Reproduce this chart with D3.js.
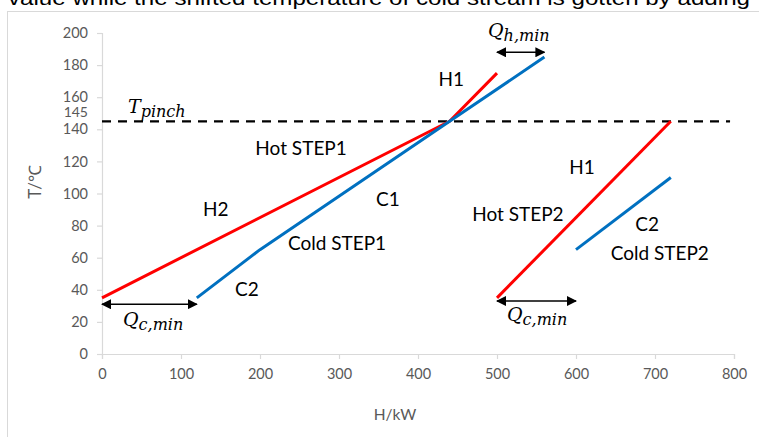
<!DOCTYPE html>
<html>
<head>
<meta charset="utf-8">
<script src="https://cdn.jsdelivr.net/npm/d3@7"></script>
<style>
  html, body { margin: 0; padding: 0; background: #fff; }
  svg { display: block; }
</style>
</head>
<body>
<svg id="chart" width="759" height="437"></svg>
<script>
// ---------- data ----------
const hotStep1H = [0, 440, 500];
const hotStep1T = [35, 145, 175];
const coldStep1H = [120, 200, 440, 560];
const coldStep1T = [35, 65, 145, 185];
const hotStep2H = [500, 720];
const hotStep2T = [35, 145];
const coldStep2H = [600, 720];
const coldStep2T = [65, 110];
const pinchT = 145;
const pinchRangeH = [0, 795];
const xTicks = [0, 100, 200, 300, 400, 500, 600, 700, 800];
const yTicks = [0, 20, 40, 60, 80, 100, 120, 140, 160, 180, 200];
const extraYTick = 145;
// arrows: [h1, h2, T]
const qhArrow = [500, 560, 188];
const qcArrowLeft = [0, 120, 31];
const qcArrowRight = [500, 600, 33];
// text labels: [text, H, T]
const streamLabels = [
  ["H1", 442, 171],
  ["Hot STEP1", 252, 128],
  ["H2", 144, 90],
  ["C1", 362, 96.5],
  ["Cold STEP1", 297.5, 69],
  ["C2", 183.5, 40],
  ["H1", 607.5, 116.5],
  ["Hot STEP2", 526.5, 87],
  ["C2", 690, 81],
  ["Cold STEP2", 706, 63]
];

// ---------- layout ----------
const svg = d3.select("#chart");
const x = d3.scaleLinear().domain([0, 800]).range([102, 734]);
const y = d3.scaleLinear().domain([0, 200]).range([354, 33]);

const gray = "#d9d9d9";
const labelGray = "#595959";
const fontUI = "Lato, 'Open Sans', sans-serif";
const fontMath = "'DejaVu Serif', 'Liberation Serif', serif";

// header (cut-off caption above chart)
svg.append("text")
  .attr("x", 8).attr("y", 4.5)
  .attr("font-family", "'Liberation Sans', Arial, sans-serif")
  .attr("font-size", 20)
  .attr("fill", "#000")
  .attr("textLength", 742)
  .attr("lengthAdjust", "spacingAndGlyphs")
  .text("value while the shifted temperature of cold stream is gotten by adding");

// chart border
svg.append("rect")
  .attr("x", 7.5).attr("y", 11.5)
  .attr("width", 800).attr("height", 500)
  .attr("fill", "#fff")
  .attr("stroke", gray).attr("stroke-width", 1);

// axes
const xAxis = d3.axisBottom(x).tickValues(xTicks).tickSize(5).tickPadding(6);
const gx = svg.append("g").attr("transform", `translate(0,${y(0)})`).call(xAxis);
const yAxis = d3.axisLeft(y).tickValues(yTicks).tickSize(5).tickPadding(9);
const gy = svg.append("g").attr("transform", `translate(${x(0)},0)`).call(yAxis);
[gx, gy].forEach(g => {
  g.select(".domain").attr("stroke", gray).attr("stroke-width", 1.2);
  g.selectAll(".tick line").attr("stroke", gray).attr("stroke-width", 1.2);
  g.selectAll(".tick text")
    .attr("fill", labelGray)
    .attr("font-family", fontUI)
    .attr("font-size", 14.5);
});
gx.selectAll(".tick text").attr("dy", "0.95em");
// extra 145 label (set slightly above its value to avoid overlap)
svg.append("text")
  .attr("x", x(0) - 14).attr("y", y(extraYTick) - 8.5)
  .attr("dy", "0.32em")
  .attr("text-anchor", "end")
  .attr("fill", labelGray)
  .attr("font-family", fontUI)
  .attr("font-size", 14)
  .text(String(extraYTick));

// axis titles
svg.append("text")
  .attr("transform", "translate(41,182) rotate(-90)")
  .attr("text-anchor", "middle")
  .attr("fill", labelGray)
  .attr("font-family", fontUI)
  .attr("font-size", 17)
  .text("T/℃");
svg.append("text")
  .attr("x", 395).attr("y", 420)
  .attr("text-anchor", "middle")
  .attr("fill", labelGray)
  .attr("font-family", fontUI)
  .attr("font-size", 15.5)
  .text("H/kW");

// pinch line
svg.append("line")
  .attr("x1", x(pinchRangeH[0])).attr("x2", x(pinchRangeH[1]))
  .attr("y1", y(pinchT)).attr("y2", y(pinchT))
  .attr("stroke", "#000").attr("stroke-width", 2.2)
  .attr("stroke-dasharray", "9,7");

// composite curves
const line = d3.line().x(d => x(d[0])).y(d => y(d[1]));
const zip = (a, b) => a.map((v, i) => [v, b[i]]);
const curves = [
  [zip(hotStep1H, hotStep1T), "#ff0000"],
  [zip(coldStep1H, coldStep1T), "#0070c0"],
  [zip(hotStep2H, hotStep2T), "#ff0000"],
  [zip(coldStep2H, coldStep2T), "#0070c0"]
];
curves.forEach(([pts, col]) => {
  svg.append("path").attr("d", line(pts))
    .attr("fill", "none").attr("stroke", col)
    .attr("stroke-width", 3).attr("stroke-linejoin", "round");
});

// arrows
const defs = svg.append("defs");
defs.append("marker").attr("id", "ah").attr("viewBox", "0 0 10 10")
  .attr("refX", 9).attr("refY", 5)
  .attr("markerWidth", 10).attr("markerHeight", 10)
  .attr("markerUnits", "userSpaceOnUse")
  .attr("orient", "auto-start-reverse")
  .append("path").attr("d", "M0,0 L10,5 L0,10 z").attr("fill", "#000");
[qhArrow, qcArrowLeft, qcArrowRight].forEach(([h1, h2, t]) => {
  svg.append("line")
    .attr("x1", x(h1)).attr("x2", x(h2))
    .attr("y1", y(t)).attr("y2", y(t))
    .attr("stroke", "#000").attr("stroke-width", 1.5)
    .attr("marker-start", "url(#ah)").attr("marker-end", "url(#ah)");
});

// stream labels
streamLabels.forEach(([t, h, temp]) => {
  svg.append("text")
    .attr("x", x(h)).attr("y", y(temp))
    .attr("text-anchor", "middle")
    .attr("dy", "0.35em")
    .attr("fill", "#000")
    .attr("font-family", fontUI)
    .attr("font-size", 19)
    .text(t);
});

// math labels
function mathLabel(px, py, main, sub) {
  const t = svg.append("text")
    .attr("x", px).attr("y", py)
    .attr("font-family", fontMath)
    .attr("font-style", "italic")
    .attr("fill", "#000");
  t.append("tspan").attr("font-size", 19).text(main);
  t.append("tspan").attr("font-size", 16).attr("dy", 4).text(sub);
}
mathLabel(128, 113, "T", "pinch");
mathLabel(488, 37, "Q", "h,min");
mathLabel(123, 326, "Q", "c,min");
mathLabel(507, 321, "Q", "c,min");
</script>
</body>
</html>
